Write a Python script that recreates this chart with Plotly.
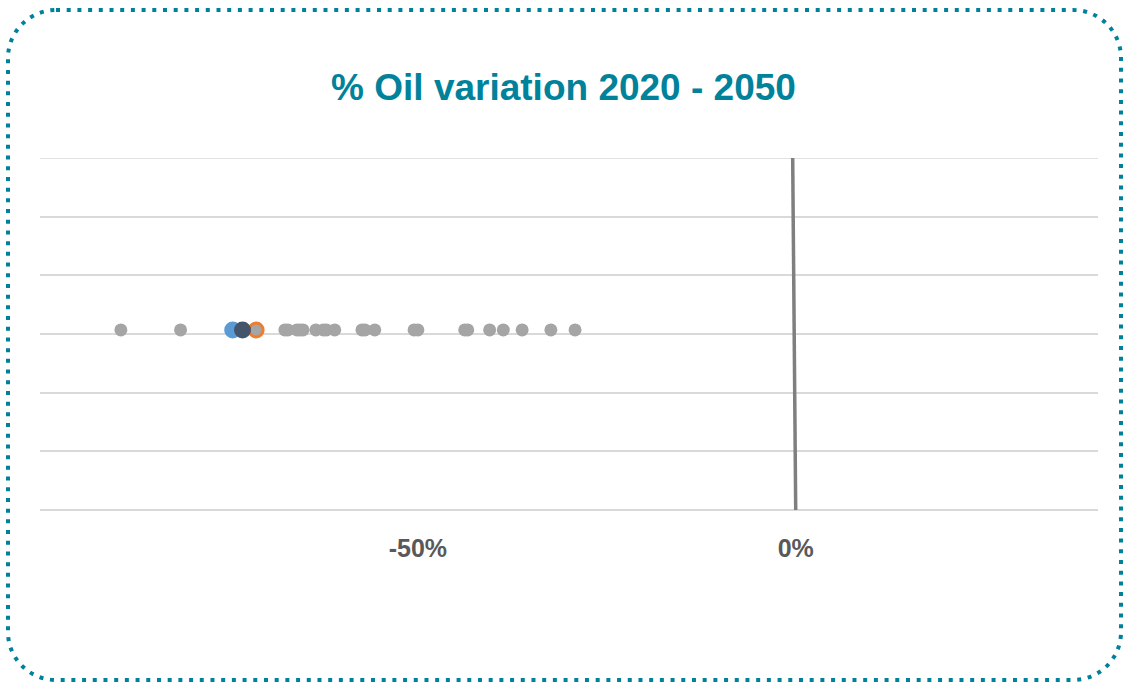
import plotly.graph_objects as go

# Data
grey_x = [-0.893, -0.814, -0.714, -0.676, -0.672, -0.660, -0.656, -0.652, -0.635,
          -0.625, -0.621, -0.610, -0.574, -0.570, -0.557, -0.505, -0.500, -0.438,
          -0.434, -0.405, -0.387, -0.362, -0.324, -0.292]
grey_y = [3.07] * len(grey_x)
orange_x = [-0.714]
orange_y = [3.07]
blue_x = [-0.745]
blue_y = [3.07]
dark_x = [-0.732]
dark_y = [3.07]
zero_line_x = [0.0, -0.004]
zero_line_y = [0, 6]
tick_vals = [-0.5, 0]
tick_text = ["-50%", "0%"]

W, H = 1127, 685
ML, MR, MT, MB = 40, 29, 158, 175
PW, PH = W - ML - MR, H - MT - MB


def px(x):
    return (x - ML) / PW


def py(y):
    return (H - MB - y) / PH


fig = go.Figure()
fig.add_trace(go.Scatter(x=zero_line_x, y=zero_line_y, mode="lines",
                         line=dict(color="#7F7F7F", width=3.5), hoverinfo="skip"))
fig.add_trace(go.Scatter(x=grey_x, y=grey_y, mode="markers",
                         marker=dict(color="#A5A5A5", size=13, line=dict(width=0))))
fig.add_trace(go.Scatter(x=orange_x, y=orange_y, mode="markers",
                         marker=dict(color="#A5A5A5", size=14, line=dict(color="#ED7D31", width=3))))
fig.add_trace(go.Scatter(x=blue_x, y=blue_y, mode="markers",
                         marker=dict(color="#5B9BD5", size=17, line=dict(width=0))))
fig.add_trace(go.Scatter(x=dark_x, y=dark_y, mode="markers",
                         marker=dict(color="#44546A", size=17, line=dict(width=0))))

# top gridline (at the range edge)
fig.add_shape(type="line", xref="paper", x0=0, x1=1, yref="y", y0=6, y1=6,
              line=dict(color="#D9D9D9", width=1.5), layer="below")

# rounded dotted border
L, T, R, B, r = 8, 10, 1121, 680, 48
k = 0.5523 * r
segs = [
    f"M {px(L + r)},{py(T)}",
    f"L {px(R - r)},{py(T)}",
    f"C {px(R - r + k)},{py(T)} {px(R)},{py(T + r - k)} {px(R)},{py(T + r)}",
    f"L {px(R)},{py(B - r)}",
    f"C {px(R)},{py(B - r + k)} {px(R - r + k)},{py(B)} {px(R - r)},{py(B)}",
    f"L {px(L + r)},{py(B)}",
    f"C {px(L + r - k)},{py(B)} {px(L)},{py(B - r + k)} {px(L)},{py(B - r)}",
    f"L {px(L)},{py(T + r)}",
    f"C {px(L)},{py(T + r - k)} {px(L + r - k)},{py(T)} {px(L + r)},{py(T)}",
    "Z",
]
fig.add_shape(type="path", xref="paper", yref="paper", path=" ".join(segs),
              line=dict(color="#00819B", width=4, dash="4px,6.7px"), layer="above")

fig.update_layout(
    width=W, height=H,
    margin=dict(l=ML, r=MR, t=MT, b=MB),
    paper_bgcolor="white", plot_bgcolor="white",
    showlegend=False,
    title=dict(text="% Oil variation 2020 - 2050", x=0.5, xanchor="center",
               y=1 - 87 / H, yanchor="middle", yref="container",
               font=dict(family="Liberation Sans, Arial, sans-serif", size=37,
                         color="#00829B", weight="bold")),
    xaxis=dict(range=[-1.0, 0.4], tickvals=tick_vals, ticktext=tick_text,
               showgrid=False, zeroline=False, showline=False,
               ticks="outside", ticklen=16, tickcolor="rgba(0,0,0,0)",
               tickfont=dict(family="Liberation Sans, Arial, sans-serif", size=25,
                             color="#595959", weight="bold")),
    yaxis=dict(range=[0, 6], dtick=1, showticklabels=False, showgrid=True,
               gridcolor="#D9D9D9", gridwidth=1.5, zeroline=True,
               zerolinecolor="#D9D9D9", zerolinewidth=1.5, showline=False),
)

fig.write_html("out.html")
